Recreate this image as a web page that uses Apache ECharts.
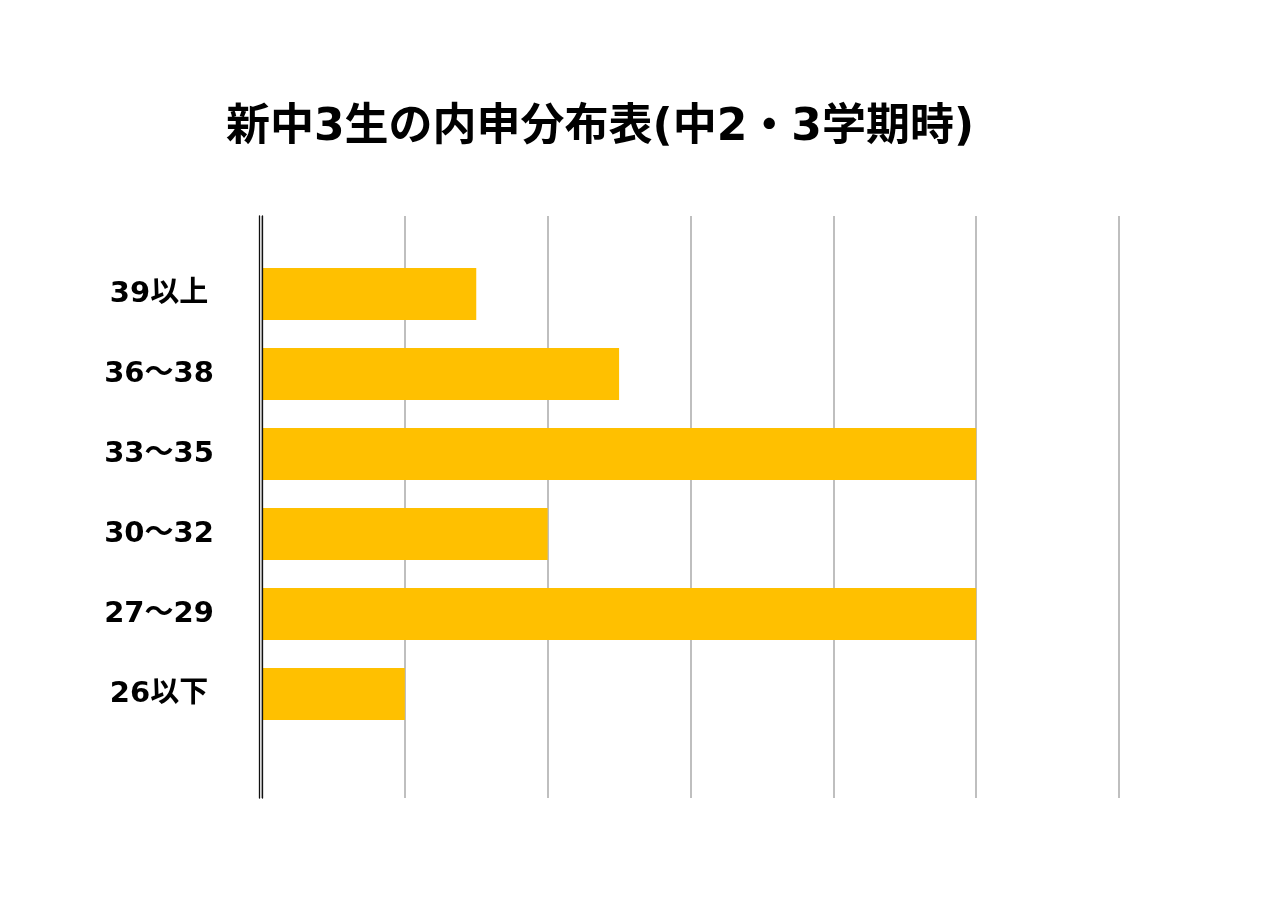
<!DOCTYPE html>
<html><head><meta charset="utf-8">
<script src="https://cdn.jsdelivr.net/npm/echarts@6/dist/echarts.min.js"></script>
<style>html,body{margin:0;padding:0;background:#fff}#c{width:1280px;height:905px}</style>
</head><body><div id="c"></div>
<script>
const titleText = '新中3生の内申分布表(中2・3学期時)';
const categories = ['39以上', '36～38', '33～35', '30～32', '27～29', '26以下'];
const values = [3, 5, 10, 4, 10, 2];
const xMax = 12;
const xInterval = 2;

const chart = echarts.init(document.getElementById('c'));
const font = '"DejaVu Sans", "Noto Sans CJK JP", sans-serif';
chart.setOption({
  backgroundColor: '#fff',
  animation: false,
  title: {
    text: titleText, left: 221, top: 102,
    textStyle: { fontFamily: font, fontWeight: 'bold', fontSize: 44, color: '#000' }
  },
  grid: [
    { left: 262, right: 161, top: 216, height: 582 },
    { left: 262, right: 161, top: 254, height: 480 }
  ],
  xAxis: [
    { gridIndex: 0, type: 'value', min: 0, max: xMax, interval: xInterval,
      axisLine: { show: false }, axisTick: { show: false }, axisLabel: { show: false },
      splitLine: { show: true, lineStyle: { color: '#BFBFBF', width: 2 } } },
    { gridIndex: 1, type: 'value', min: 0, max: xMax, interval: xInterval,
      axisLine: { show: false }, axisTick: { show: false }, axisLabel: { show: false },
      splitLine: { show: false } }
  ],
  yAxis: [
    { gridIndex: 0, type: 'value', position: 'left', z: 5,
      axisLine: { show: true, lineStyle: { color: '#111', width: 1.3 } },
      axisTick: { show: false }, axisLabel: { show: false }, splitLine: { show: false } },
    { gridIndex: 0, type: 'value', position: 'left', offset: 3, z: 5,
      axisLine: { show: true, lineStyle: { color: '#111', width: 1.3 } },
      axisTick: { show: false }, axisLabel: { show: false }, splitLine: { show: false } },
    { gridIndex: 1, type: 'category', data: categories, inverse: true,
      axisLine: { show: false }, axisTick: { show: false },
      axisLabel: { align: 'center', margin: 103, padding: [6, 0, 0, 0], fontFamily: font, fontWeight: 'bold', fontSize: 29, color: '#000' } }
  ],
  series: [{
    type: 'bar', xAxisIndex: 1, yAxisIndex: 2, data: values,
    barWidth: 52, itemStyle: { color: '#FFC000' }, z: 1
  }]
});
</script></body></html>
